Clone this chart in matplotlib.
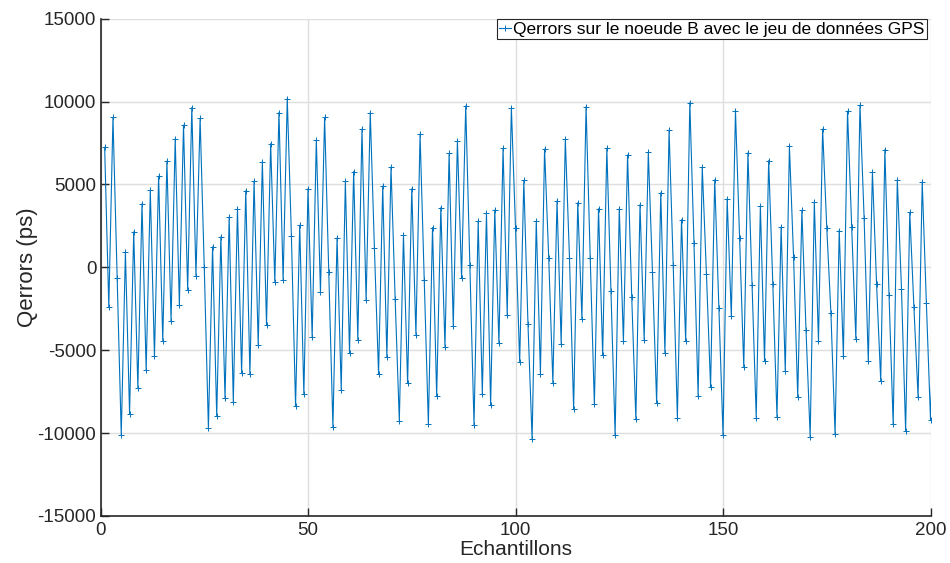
import numpy as np
import matplotlib
matplotlib.use("Agg")
import matplotlib.pyplot as plt

plt.rcParams['font.family'] = ['Liberation Sans', 'DejaVu Sans']
plt.rcParams['axes.unicode_minus'] = False

# Qerrors (ps), echantillons 1..201 (le dernier sort de l'axe)
qerrors = [
    7240, -2400, 9040, -620, -10100, 940, -8820, 2140, -7260, 3840,
    -6200, 4640, -5360, 5500, -4420, 6400, -3220, 7740, -2260, 8580,
    -1360, 9640, -500, 8980, 0, -9700, 1240, -8980, 1840, -7900,
    3040, -8120, 3540, -6360, 4620, -6440, 5200, -4660, 6380, -3460,
    7460, -860, 9340, -760, 10180, 1880, -8380, 2540, -7660, 4740,
    -4220, 7680, -1500, 9040, -260, -9620, 1780, -7380, 5200, -5160,
    5780, -4360, 8340, -2000, 9340, 1140, -6460, 4900, -5420, 6040,
    -1920, -9260, 1940, -7000, 4740, -4060, 8020, -780, -9460, 2400,
    -7780, 3600, -4780, 6880, -3540, 7640, -660, 9740, 140, -9500,
    2780, -7620, 3260, -8320, 3460, -4580, 7180, -2860, 9640, 2380,
    -5740, 5240, -3420, -10360, 2800, -6420, 7140, 580, -6960, 4000,
    -4600, 7740, 580, -8520, 3900, -3100, 9700, 580, -8260, 3540,
    -5300, 7180, -1420, -10100, 3540, -4460, 6780, -1780, -9160, 3780,
    -4380, 6940, -280, -8160, 4500, -5160, 8280, 120, -9060, 2880,
    -4460, 9940, 1480, -7740, 6040, -380, -7220, 5280, -2480, -10120,
    4120, -2960, 9440, 1740, -6020, 6900, -1080, -9060, 3700, -5640,
    6440, -1020, -9020, 2440, -6260, 7300, 620, -7800, 3440, -3800,
    -10220, 3940, -4460, 8340, 2380, -2780, -10060, 2220, -5320, 9420,
    2460, -4300, 9780, 2960, -5660, 5760, -1020, -6860, 7100, -1660,
    -9460, 5280, -1300, -9860, 3320, -2420, -7820, 5140, -2160, -9220,
    -500,
]
samples = np.arange(1, len(qerrors) + 1)

x_ticks = [0, 50, 100, 150, 200]
y_ticks = [-15000, -10000, -5000, 0, 5000, 10000, 15000]
legend_label = "Qerrors sur le noeude B avec le jeu de données GPS"

fig = plt.figure(figsize=(9.5, 5.63), dpi=100)
ax = fig.add_axes([0.1058, 0.0835, 0.8737, 0.8833])

ax.plot(samples, qerrors, color="#0072BD", lw=0.8, marker="+",
        ms=5, mew=0.7, label=legend_label)

ax.set_xlim(0, 200)
ax.set_ylim(-15000, 15000)
ax.set_xticks(x_ticks)
ax.set_yticks(y_ticks)
ax.grid(True, color="#dedede", lw=1)
ax.set_axisbelow(True)

for s in ["top", "right"]:
    ax.spines[s].set_visible(False)
for s in ["left", "bottom"]:
    ax.spines[s].set_color("#262626")
    ax.spines[s].set_linewidth(1.2)
ax.tick_params(direction="in", length=6, width=1, color="#262626",
               labelsize=13.5, labelcolor="#262626")
ax.tick_params(axis="x", pad=4)
ax.tick_params(axis="y", pad=3)

ax.set_xlabel("Echantillons", fontsize=15, color="#262626", labelpad=1)
ax.set_ylabel("Qerrors (ps)", fontsize=16, color="#262626", labelpad=0)

leg = ax.legend(loc="upper right", bbox_to_anchor=(0.9958, 0.9994),
                borderaxespad=0, fontsize=12.5, handlelength=0.7,
                handletextpad=0.1, borderpad=0.15, fancybox=False,
                framealpha=1)
leg.get_frame().set_edgecolor("#262626")
leg.get_frame().set_linewidth(0.8)

plt.savefig("out.png", dpi=100)
